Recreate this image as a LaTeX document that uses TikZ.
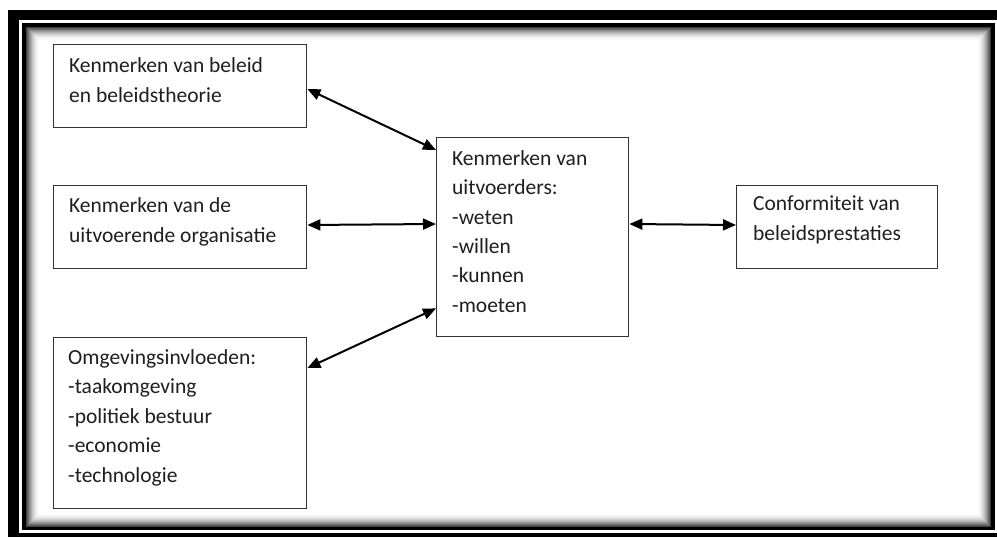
\documentclass[tikz,border=0pt]{standalone}
\usepackage{fontspec}
\setmainfont{Carlito}
\usetikzlibrary{arrows.meta,calc}

\tikzset{
  box/.style={draw=black!80, line width=1.4pt, anchor=north west, inner sep=0pt},
  % multi-line texts are placed by the baseline of their last line
  txt/.style={anchor=base west, align=left, inner sep=0pt, text=black!88,
              font=\fontsize{21.5}{29.5}\selectfont},
  link/.style={line width=2pt, black,
               {Triangle[length=13pt,width=11pt]}-{Triangle[length=13pt,width=11pt]}},
}

\begin{document}
\begin{tikzpicture}[x=1pt,y=-1pt]
  \useasboundingbox (0,0) rectangle (997,540);

  % double black frame with a soft inner shadow
  \fill[black] (8,10) rectangle (997,537);
  \fill[white] (19,20) rectangle (997,533);
  \fill[black] (22,23) rectangle (995,530);
  \fill[white] (26,27) rectangle (991,527);
  \foreach \i in {0,...,13}{
    \pgfmathsetmacro{\shade}{75*(1-\i/14)^2}
    \draw[black!\shade, line width=1.1pt]
      (26.5+\i,27.5+\i) rectangle (990.5-\i,526.5-\i);
  }

  % boxes
  \node[box, minimum width=253pt, minimum height=83pt]  (b1) at (53,44)  {};
  \node[box, minimum width=253pt, minimum height=83pt]  (b2) at (53,185) {};
  \node[box, minimum width=253pt, minimum height=171pt] (b3) at (53,337) {};
  \node[box, minimum width=192pt, minimum height=199pt] (c)  at (436,137) {};
  \node[box, minimum width=201pt, minimum height=83pt]  (r)  at (736,185) {};

  % box texts
  \node[txt] (t1) at (69,102.5) {Kenmerken van beleid\\en beleidstheorie};
  \node[txt] (t2) at (69,242.5) {Kenmerken van de\\uitvoerende organisatie};
  \node[txt] (t3) at (68,482)   {Omgevingsinvloeden:\\-taakomgeving\\-politiek bestuur\\-economie\\-technologie};
  \node[txt] (tc) at (452,312.5) {Kenmerken van\\uitvoerders:\\-weten\\-willen\\-kunnen\\-moeten};
  \node[txt] (tr) at (753,240.5) {Conformiteit van\\beleidsprestaties};

  % two-way connectors
  \draw[link] ($(b1.north east)+(0,45)$) -- ($(c.north west)+(0,13)$);
  \draw[link] ($(b2.north east)+(0,40)$) -- ($(c.north west)+(0,87)$);
  \draw[link] ($(b3.north east)+(0,31)$) -- ($(c.south west)+(0,-29)$);
  \draw[link] ($(c.north east)+(0,87)$) -- ($(r.north west)+(0,40)$);
\end{tikzpicture}
\end{document}
